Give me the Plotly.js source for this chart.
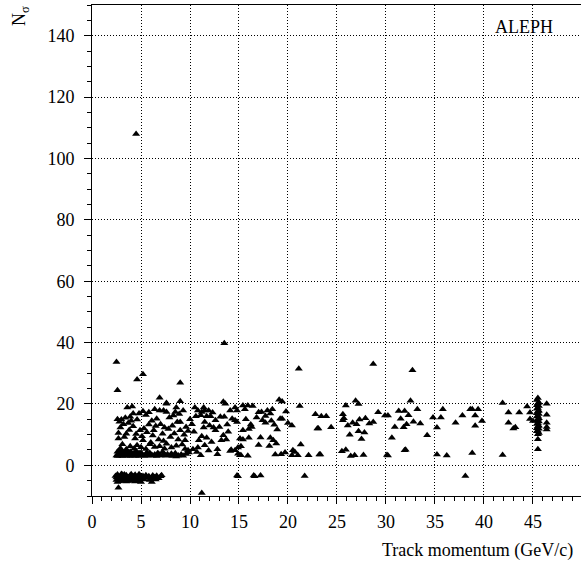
<!DOCTYPE html>
<html>
<head>
<meta charset="utf-8">
<script src="https://cdn.plot.ly/plotly-3.0.1.min.js"></script>
<style>
html,body{margin:0;padding:0;background:#fff;}
#chart{width:581px;height:562px;}
</style>
</head>
<body>
<div id="chart"></div>
<script>
// [track momentum (GeV/c), N_sigma]
const outliers = [[4.5,108],[13.5,39.8],[2.5,33.7],[5.2,29.7],[4.6,28],[2.6,24.5],[9.0,26.9],[28.7,33],[32.7,31],[21.1,31.5],[2.7,-7.3],[11.2,-9.0]];

const lowScatter = [[6.9,22],[7.6,20.1],[3.6,18.8],[5.2,17.6],[4.8,16.9],[6.9,17.9],[7.3,17.9],[4.2,16.9],[3.9,15.8],[4.6,14.9],[2.6,15],[3.0,14.9],[4.0,14.5],[3.2,13.4],[2.9,12.3],[4.2,12.7],[4.9,11.4],[5.3,12],[6.1,14.5],[6.6,15.2],[7.0,13.4],[7.4,12.3],[3.5,10.3],[6.3,11.4],[2.7,8.7],[4.4,8.7],[5.1,9.5],[5.2,8.2],[6.8,8.4],[7.3,7.9],[3.1,6.9],[3.9,6.2],[4.6,6.5],[5.9,6.9],[6.4,6],[6.9,6.2],
[9.0,20.9],[7.6,20.3],[8.6,18.8],[8.5,17.4],[7.6,17.4],[8.3,16.2],[9.0,14.1],[8.7,14.1],[10.0,15],[9.6,12.5],[9.8,11.2],[9.0,11.4],[8.0,9.2],[8.8,8.4],[9.5,8.2],[9.5,5.3],[9.8,4.9],[7.4,5.4],
[2.8,14.2],[3.4,15.5],[3.7,13.8],[2.7,10.5],[3.3,9.2],[3.8,11.5],[4.5,10.2],[5.6,10.8],[5.8,13.3],[6.2,9.7],[6.5,12.8],[7.2,10.3],[7.8,11.8],[8.2,12.9],[8.4,10.4],[7.9,15.6],[8.9,16.7],[9.3,17.9],[9.4,10],[6.0,7.4],[7.6,7.0],[8.6,6.4],[9.2,6.8],[2.9,5.6],[3.5,5.2],[4.3,5.5],[5.0,5.9],[5.5,5.3],[8.1,5.8],[5.5,16.4],[6.4,18.3],[4.1,19.2],[5.8,17.3]];

const lowBand = [[2.5,3.2],[2.6,4.4],[2.7,3.6],[2.8,3.1],[2.9,4.8],[3.0,3.5],[3.1,3.0],[3.2,4.1],[3.3,3.4],[3.4,3.8],[3.5,3.1],[3.6,4.5],[3.7,3.3],[3.8,3.9],[3.9,3.0],[4.0,4.2],[4.1,3.5],[4.2,3.2],[4.3,3.9],[4.4,3.1],[4.5,4.6],[4.6,3.4],[4.7,3.0],[4.8,3.7],[4.9,3.2],[5.0,4.1],[5.2,3.3],[5.4,3.0],[5.5,3.6],[5.7,3.2],[5.9,4.0],[6.0,3.4],[6.2,3.1],[6.4,3.5],[6.6,3.0],[6.8,3.8],[7.0,3.2],[7.2,4.3],[7.5,3.1],[7.7,3.6],[8.0,3.3],[8.2,3.0],[8.5,3.9],[8.8,3.2],[9.1,3.5],[9.3,3.1],[9.6,3.7],[9.9,4.2],[2.6,3.0],[2.8,3.8],[3.0,4.0],[3.3,3.6],[3.6,3.2],[3.9,4.4],[4.2,3.8],[4.5,3.3],[4.8,4.0],[5.1,3.6],[5.6,4.2],[6.1,3.4],[6.7,3.9],[7.3,3.5],[8.4,3.2],[8.1,3.8],[8.6,2.9],[7.4,3.6]];

const negCluster = [[2.4,-3.5],[2.5,-4.8],[2.6,-3.0],[2.7,-4.2],[2.8,-5.2],[2.9,-3.6],[3.0,-4.5],[3.1,-3.1],[3.2,-4.9],[3.3,-3.8],[3.4,-4.3],[3.5,-3.2],[3.6,-5.0],[3.7,-3.9],[3.8,-4.6],[3.9,-3.3],[4.0,-4.1],[4.1,-5.1],[4.2,-3.6],[4.3,-4.4],[4.4,-3.1],[4.5,-4.8],[4.6,-3.7],[4.7,-4.2],[4.8,-5.0],[4.9,-3.4],[5.0,-4.0],[5.2,-3.5],[5.3,-4.6],[5.5,-3.2],[5.6,-4.1],[5.8,-3.6],[6.0,-4.4],[6.2,-3.3],[6.4,-3.9],[6.6,-3.4],[6.8,-4.2],[7.0,-3.6],[7.1,-3.2],[2.6,-5.4],[3.0,-2.8],[3.5,-5.3],[4.0,-2.9],[4.4,-5.3],[5.0,-5.4],[6.1,-5.4],[5.9,-4.8],[2.5,-4.0],[3.3,-3.0],[4.8,-2.9],[6.5,-4.6]];

const midRange = [[10.5,18.8],[10.8,17.9],[11.4,18.8],[11.5,17.9],[11.9,17.9],[11.2,17.4],[10.6,16],[11.1,16.3],[11.7,16],[12.1,16],[11.5,14.1],[12.0,13],[12.4,12.3],[12.6,14.7],[12.6,11.4],[13.4,20.7],[13.6,20.1],[13.1,15.8],[13.5,15.8],[14.1,17.9],[14.6,18.8],[14.8,17.9],[14.3,15.2],[14.6,14.7],[14.8,14.1],[10.2,13.4],[11.2,9.5],[11.7,9],[10.9,8.2],[11.5,6.5],[10.8,5.8],[10.7,4.3],[11.1,3.3],[12.8,5.2],[12.8,3.6],[13.4,9.8],[13.7,8.4],[13.2,8.2],[13.9,10.9],[14.1,4.7],[14.2,5.1],[14.6,4.9],[14.9,5.8],[14.9,3.8],[15.1,3.3],[15.1,8.7],[15.4,11.4],[14.8,-3.3],[14.9,-3.6],
[15.4,19.5],[15.9,19.5],[16.4,19.3],[15.6,18.3],[17.0,17.3],[17.3,17.4],[17.9,17.9],[18.4,18.3],[18.2,16.9],[17.7,16.1],[16.8,15.6],[17.4,14.7],[17.7,13.9],[18.3,14.5],[18.6,13.2],[18.9,11.7],[19.2,15.2],[19.4,15.2],[19.8,17.5],[20.0,13.8],[20.4,13],[15.7,15],[16.2,13.3],[16.0,11.8],[16.3,12.5],[15.4,8.4],[16.0,9],[17.2,9.1],[18.2,9],[18.5,8.2],[18.8,7.1],[17.0,6.6],[18.1,6.3],[15.2,6.2],[15.2,3.3],[15.9,3.1],[18.7,3.5],[19.3,3.6],[19.7,4.2],[20.4,3.3],[20.5,4.9],[20.7,4.3],[21.0,3.3],[21.3,6.8],[22.1,3.3],[23.2,3.5],[16.5,-3.3],[16.6,-3.6],[17.2,-3.3],[21.7,-3.5],[19.1,21.4],[19.4,20.8],[21.2,19.3],[22.8,16.6],[23.1,12],
[12.3,17.2],[13.0,12.5],[10.4,10.9],[12.2,7.6],[11.9,4.8],[13.8,13.3],[10.3,5.2],[11.4,12.3]];

const highRange = [[23.4,16],[23.9,16],[23.0,12],[24.4,12.4],[25.6,16.6],[25.7,15.3],[25.6,14.7],[26.1,13],[26.6,13.9],[27.0,13.4],[27.3,14.9],[27.9,15.3],[28.3,13.6],[28.7,14.1],[29.2,17.3],[27.2,11.1],[27.8,10.7],[26.3,10],[27.5,8.6],[29.9,16.2],[30.2,16.2],[31.3,17.7],[31.5,15.2],[31.9,17.7],[30.9,12.5],[31.8,12.4],[30.6,9.0],[23.3,3.5],[25.5,4.6],[25.9,5.1],[26.4,3.0],[26.8,3.3],[27.7,3.4],[30.1,3.4],[30.2,3.2],[31.9,4.9],[26.9,21],[27.2,20],[25.9,19.5],
[32.5,21],[32.3,16.3],[33.2,18.3],[32.8,14.2],[33.5,13.6],[32.1,13.4],[34.2,9.8],[32.0,5.1],[34.8,15.6],[35.8,18.3],[35.6,15.6],[35.2,12.3],[35.2,3.5],[36.2,3.2],[37.1,13.9],[37.8,16.2],[38.6,18.3],[38.8,18.3],[39.1,16.2],[39.4,18.3],[39.1,12.9],[39.8,14.4],[38.8,4.0],[38.1,-3.5],
[41.9,20.3],[42.5,17.2],[42.5,13.9],[43.0,12],[43.2,12.4],[43.6,17.2],[44.4,19.2],[44.7,17.2],[44.7,15.1],[45.0,14.4],[41.9,3.4],[46.4,20.1],[46.4,16.5],[46.4,13.9],[46.4,12.5],[46.4,11.7]];

const beamColumn = [[45.5,21.9],[45.4,21.3],[45.6,20.5],[45.5,20.2],[45.4,19.6],[45.6,19.3],[45.5,18.7],[45.4,18.4],[45.6,17.8],[45.5,17.6],[45.4,17.0],[45.6,16.7],[45.5,16.1],[45.4,15.9],[45.6,15.3],[45.5,15.1],[45.4,14.5],[45.6,14.3],[45.5,13.7],[45.4,13.5],[45.6,12.9],[45.5,12.7],[45.4,12.1],[45.6,11.9],[45.5,11.3],[45.4,11.1],[45.6,10.5],[45.5,10.1],[45.5,8.5],[45.5,5.2]];

const xTickVals = [0, 5, 10, 15, 20, 25, 30, 35, 40, 45];
const yTickVals = [0, 20, 40, 60, 80, 100, 120, 140];

const allPts = [].concat(outliers, lowScatter, lowBand, negCluster, midRange, highRange, beamColumn);
const momentum = allPts.map(p => p[0]);
const nsigma = allPts.map(p => p[1]);

const FONT = 'Liberation Serif, Times New Roman, serif';
const TXT = {family: FONT, size: 18, color: '#000'};

const trace = {
  x: momentum, y: nsigma, type: 'scatter', mode: 'markers',
  marker: {symbol: 'triangle-up', size: 7, color: '#000'},
  hoverinfo: 'x+y', showlegend: false
};

function axisBase() {
  return {
    ticks: 'outside', ticklen: 7, tickwidth: 1, tickcolor: '#000',
    showline: true, linecolor: '#000', linewidth: 1,
    showgrid: true, gridcolor: '#000', gridwidth: 1, griddash: '1px,2px',
    zeroline: false, tickfont: TXT
  };
}

const layout = {
  width: 581, height: 562,
  margin: {l: 92, r: 0, t: 5, b: 66},
  paper_bgcolor: '#fff', plot_bgcolor: '#fff',
  font: TXT,
  xaxis: Object.assign(axisBase(), {
    range: [0, 49.9], tickmode: 'array', tickvals: xTickVals, mirror: true, ticklabelstandoff: 2,
    minor: {tickmode: 'linear', tick0: 0, dtick: 1, ticks: 'outside', ticklen: 4, tickcolor: '#000', showgrid: false}
  }),
  yaxis: Object.assign(axisBase(), {
    range: [-10, 150], tickmode: 'array', tickvals: yTickVals, ticklabelstandoff: 6,
    minor: {tickmode: 'linear', tick0: 0, dtick: 5, ticks: 'outside', ticklen: 4, tickcolor: '#000', showgrid: false}
  }),
  annotations: [
    {text: 'Track momentum (GeV/c)', xref: 'paper', yref: 'paper', x: 0.988, y: -0.112,
     xanchor: 'right', yanchor: 'middle', showarrow: false, font: TXT},
    {text: 'N<sub>σ</sub>', xref: 'paper', yref: 'paper', x: -0.145, y: 0.978, textangle: -90,
     xanchor: 'center', yanchor: 'middle', showarrow: false, font: TXT},
    {text: 'ALEPH', xref: 'paper', yref: 'paper', x: 0.883, y: 0.955,
     xanchor: 'center', yanchor: 'middle', showarrow: false, font: TXT}
  ]
};

Plotly.newPlot('chart', [trace], layout, {staticPlot: true, displayModeBar: false});
</script>
</body>
</html>
